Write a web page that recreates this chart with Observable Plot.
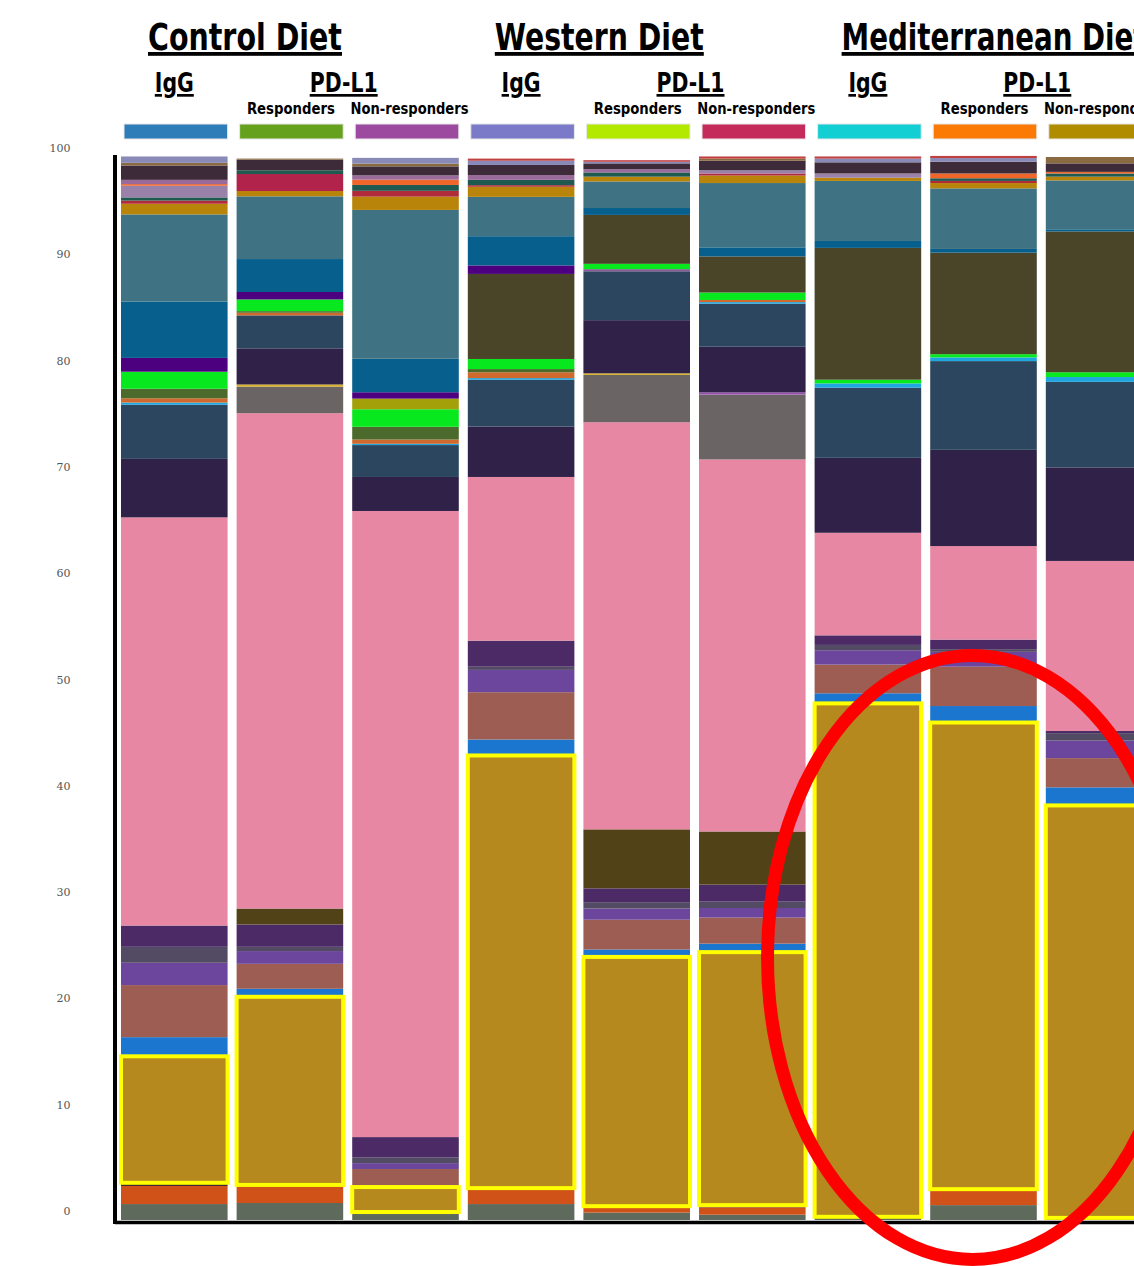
<!DOCTYPE html>
<html>
<head>
<meta charset="utf-8">
<script src="https://cdn.jsdelivr.net/npm/d3@7"></script>
<script src="https://cdn.jsdelivr.net/npm/@observablehq/plot@0.6"></script>
<style>
  html, body { margin: 0; padding: 0; background: #fff; overflow: hidden; }
  #chart svg { display: block; }
</style>
</head>
<body>
<div id="chart"></div>
<script>
// ---------- categories ----------
const bars = [
  "Control IgG", "Control PD-L1 Responders", "Control PD-L1 Non-responders",
  "Western IgG", "Western PD-L1 Responders", "Western PD-L1 Non-responders",
  "Mediterranean IgG", "Mediterranean PD-L1 Responders", "Mediterranean PD-L1 Non-responders"
];
const dietLabels = ["Control Diet", "Western Diet", "Mediterranean Diet"];
const treatmentLabels = ["IgG", "PD-L1"];
const responseLabels = ["Responders", "Non-responders"];
const groupColors = ["#2f7db8", "#66a11e", "#9b4aa0", "#7a7ac8", "#b3e800", "#c42b5b", "#12cfd4", "#fa7a05", "#b08c00"];
const yTicks = [0, 10, 20, 30, 40, 50, 60, 70, 80, 90, 100];

// ---------- taxa (bottom -> top stacking order) ----------
const taxa = [
  "Taxon 01", "Taxon 02", "Taxon 03", "Taxon 04", "Taxon 05", "Taxon 06", "Taxon 07", "Taxon 08",
  "Taxon 09", "Taxon 10", "Taxon 11", "Taxon 12", "Taxon 13", "Taxon 14", "Taxon 15", "Taxon 16",
  "Taxon 17", "Taxon 18", "Taxon 19", "Taxon 20", "Taxon 21", "Taxon 22", "Taxon 23", "Taxon 24",
  "Taxon 25", "Taxon 26", "Taxon 27", "Taxon 28", "Taxon 29", "Taxon 30", "Taxon 31", "Taxon 32",
  "Taxon 33", "Taxon 34", "Taxon 35", "Taxon 36", "Taxon 37"
];
const taxonColors = [
  "#5e6b5c", "#d05219", "#3a2a30", "#b5891e", "#1b76d0", "#9e5d53", "#6b469c", "#524b63",
  "#4b2a66", "#524218", "#e887a3", "#6a6464", "#d8b020", "#9a4fb0", "#2f2148", "#2c465f",
  "#8a5a9a", "#1ea6e0", "#d0692e", "#4b6a2b", "#08e81e", "#a3a00a", "#4a4428", "#4c0080",
  "#065f8c", "#3f7383", "#b9840a", "#b12c3a", "#b2234c", "#1e5a4f", "#9a81a9", "#f0652a",
  "#9a6a9a", "#3e2b3a", "#8a6a40", "#8a8ab8", "#c04040"
];
const highlightTaxon = "Taxon 04";

// ---------- relative abundance (%) per bar, in taxa order ----------
const controlIgG        = [1.5, 1.7, 0.3, 11.9, 1.8, 4.9, 2.1, 1.5, 2.0, 0, 38.4, 0, 0, 0, 5.5, 5.1, 0, 0.2, 0.4, 0.9, 1.6, 0, 0, 1.3, 5.3, 8.2, 1.0, 0.3, 0, 0.3, 1.1, 0.15, 0.4, 1.35, 0.25, 0.6, 0];
const controlResp       = [1.6, 1.7, 0, 17.7, 0.75, 2.35, 1.2, 0.4, 2.1, 1.5, 46.6, 2.5, 0.2, 0, 3.4, 3.1, 0, 0, 0.25, 0.15, 1.1, 0, 0, 0.7, 3.1, 5.9, 0.5, 0, 1.6, 0.35, 0, 0, 0, 1.0, 0.1, 0, 0];
const controlNonResp    = [0.75, 0, 0, 2.35, 0, 1.7, 0.55, 0.55, 1.9, 0, 58.9, 0, 0, 0, 3.2, 3.0, 0, 0.12, 0.4, 1.2, 1.65, 1.0, 0, 0.6, 3.15, 14.0, 1.25, 0.55, 0, 0.55, 0, 0.5, 0.4, 0.85, 0.25, 0.55, 0];
const westernIgG        = [1.5, 1.5, 0, 40.7, 1.5, 4.45, 2.1, 0.3, 2.45, 0, 15.4, 0, 0, 0, 4.75, 4.4, 0, 0.15, 0.55, 0.3, 0.95, 0, 8.0, 0.8, 2.75, 3.7, 0.95, 0.15, 0, 0.5, 0, 0, 0.45, 0.95, 0, 0.4, 0.2];
const westernResp       = [0.7, 0.6, 0, 23.45, 0.7, 2.8, 1.05, 0.6, 1.3, 5.55, 38.3, 4.45, 0.15, 0, 5.0, 4.6, 0.2, 0, 0, 0, 0.5, 0, 4.6, 0, 0.65, 2.5, 0.45, 0, 0, 0.4, 0, 0, 0.3, 0.55, 0, 0.15, 0.15];
const westernNonResp    = [0.5, 0.7, 0.2, 23.8, 0.8, 2.45, 0.9, 0.6, 1.6, 5.0, 35.0, 6.1, 0, 0.2, 4.3, 4.05, 0, 0.15, 0.2, 0, 0.7, 0, 3.4, 0, 0.85, 6.05, 0.7, 0.2, 0, 0, 0.3, 0, 0, 0.9, 0.2, 0, 0.2];
const medIgG            = [0.3, 0, 0, 48.3, 0.95, 2.7, 1.35, 0.5, 0.9, 0, 9.65, 0, 0, 0, 7.05, 6.6, 0, 0.4, 0, 0, 0.35, 0, 12.4, 0, 0.65, 5.65, 0.3, 0, 0, 0, 0.4, 0, 0, 1.05, 0, 0.35, 0.2];
const medResp           = [1.4, 1.5, 0, 43.9, 1.55, 3.7, 1.4, 0.25, 0.9, 0, 8.8, 0, 0, 0, 9.05, 8.35, 0, 0.35, 0, 0, 0.3, 0, 9.55, 0, 0.35, 5.7, 0.5, 0.2, 0, 0.25, 0, 0.45, 0, 1.1, 0, 0.35, 0.2];
const medNonResp        = [0.2, 0, 0, 38.8, 1.7, 2.75, 1.65, 0.7, 0.2, 0, 16.0, 0, 0, 0, 8.8, 8.05, 0, 0.45, 0, 0, 0.45, 0, 13.25, 0, 0.2, 4.6, 0.35, 0, 0, 0.3, 0, 0.15, 0, 0.8, 0.6, 0, 0];

const barValues = [controlIgG, controlResp, controlNonResp, westernIgG, westernResp, westernNonResp, medIgG, medResp, medNonResp];

// table for the library
const rows = bars.flatMap((bar, i) =>
  taxa.map((taxon, j) => ({ bar, taxon, color: taxonColors[j], value: barValues[i][j] }))
).filter(d => d.value > 0);

const W = 1134, H = 1266;
const plot = Plot.plot({
  width: W,
  height: H,
  marginTop: 157,
  marginBottom: 46,
  marginLeft: 115,
  marginRight: 0,
  style: { background: "#fff", overflow: "hidden" },
  x: { domain: bars, range: [116.5, 1156.9], paddingInner: 0.078, paddingOuter: 0.039, round: false, axis: null },
  y: { domain: [0, 100], label: null, axis: null },
  color: { type: "identity" },
  marks: [
    Plot.barY(rows, Plot.stackY({ x: "bar", y: "value", fill: "color" })),
    Plot.barY(rows, Plot.stackY({
      x: "bar", y: "value", fill: "none",
      stroke: d => d.taxon === highlightTaxon ? "#ffff00" : "none",
      strokeWidth: 4
    })),
    Plot.axisY({
      ticks: yTicks, tickSize: 0, tickPadding: 45, dy: -9, label: null,
      fontSize: 11, fontFamily: "'DejaVu Serif', serif", color: "#555"
    }),
    Plot.ruleY([0], { stroke: "#000", strokeWidth: 3.5, dy: 2 })
  ]
});
document.getElementById("chart").appendChild(plot);

// ---------- annotations (headers, group colour keys, axis line, ellipse) ----------
const svg = d3.select(plot);
const xs = plot.scale("x");
const ys = plot.scale("y");
const bw = xs.bandwidth;
const left = b => xs.apply(b);
const center = b => xs.apply(b) + bw / 2;

// vertical axis line
svg.append("line")
  .attr("x1", 115).attr("x2", 115)
  .attr("y1", ys.apply(100) - 2).attr("y2", ys.apply(0) + 4)
  .attr("stroke", "#000").attr("stroke-width", 4);

const head = svg.append("g")
  .attr("font-family", "'Liberation Sans Narrow', 'DejaVu Sans Condensed', 'Arial Narrow', sans-serif")
  .attr("font-weight", "bold").attr("fill", "#000");

const dietWidths = [194, 209, 305];
dietLabels.forEach((label, g) => {
  const b0 = bars[g * 3], b1 = bars[g * 3 + 1], b2 = bars[g * 3 + 2];
  head.append("text")
    .attr("x", left(b0) + 27).attr("y", 50)
    .attr("text-anchor", "start")
    .attr("font-size", 38)
    .attr("textLength", dietWidths[g]).attr("lengthAdjust", "spacingAndGlyphs")
    .style("text-decoration", "underline")
    .text(label);
  head.append("text")
    .attr("x", center(b0)).attr("y", 92).attr("text-anchor", "middle")
    .attr("font-size", 27)
    .attr("textLength", 39).attr("lengthAdjust", "spacingAndGlyphs")
    .style("text-decoration", "underline")
    .text(treatmentLabels[0]);
  head.append("text")
    .attr("x", (left(b1) + left(b2) + bw) / 2 - 4).attr("y", 92).attr("text-anchor", "middle")
    .attr("font-size", 27)
    .attr("textLength", 68).attr("lengthAdjust", "spacingAndGlyphs")
    .style("text-decoration", "underline")
    .text(treatmentLabels[1]);
  head.append("text")
    .attr("x", center(b1) + 1).attr("y", 114).attr("text-anchor", "middle")
    .attr("font-size", 15)
    .attr("textLength", 88).attr("lengthAdjust", "spacingAndGlyphs")
    .text(responseLabels[0]);
  head.append("text")
    .attr("x", center(b2) + 4).attr("y", 114).attr("text-anchor", "middle")
    .attr("font-size", 15)
    .attr("textLength", 118).attr("lengthAdjust", "spacingAndGlyphs")
    .text(responseLabels[1]);
});

// group colour keys
bars.forEach((b, i) => {
  svg.append("rect")
    .attr("x", left(b) + 3).attr("y", 124)
    .attr("width", bw - 3).attr("height", 15)
    .attr("fill", groupColors[i])
    .attr("stroke", "#e8e8e8").attr("stroke-width", 1);
});

// red ellipse annotation
svg.append("ellipse")
  .attr("cx", center(bars[7]) - 11)
  .attr("cy", ys.apply(24.7))
  .attr("rx", 205).attr("ry", 302)
  .attr("fill", "none").attr("stroke", "#ff0000").attr("stroke-width", 13);
</script>
</body>
</html>
